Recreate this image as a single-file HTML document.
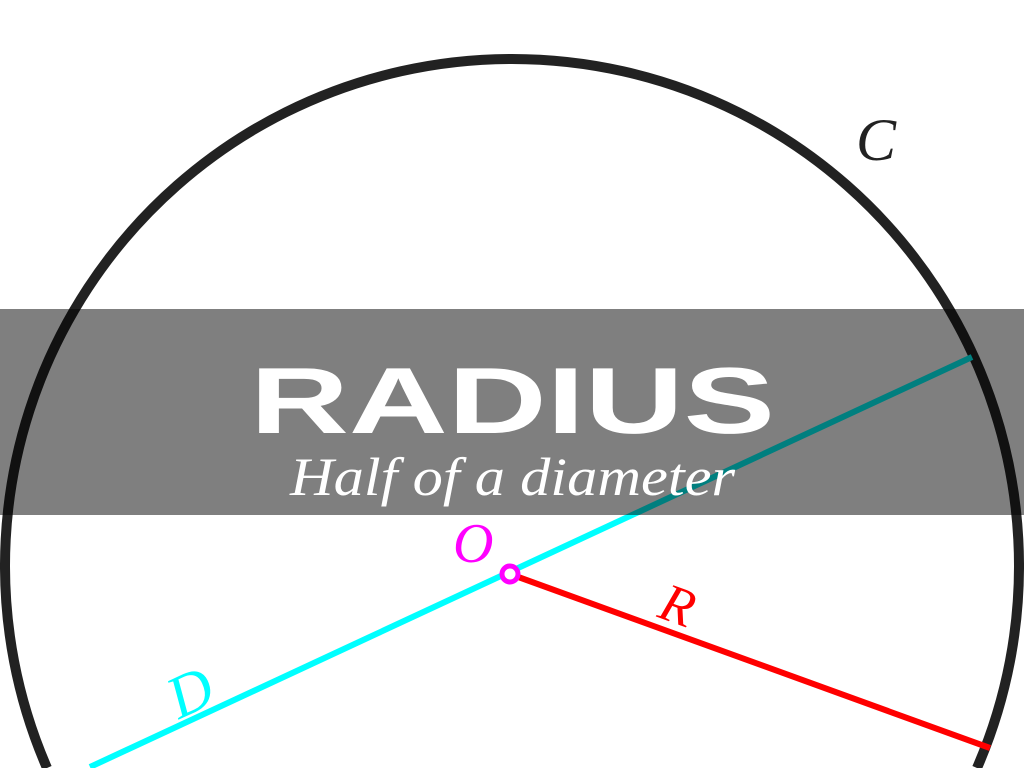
<!DOCTYPE html>
<html><head><meta charset="utf-8"><style>
html,body{margin:0;padding:0;background:#fff;width:1024px;height:768px;overflow:hidden}
svg{display:block;overflow:hidden}
</style></head><body>
<svg width="1024" height="768" viewBox="0 0 1024 768" xmlns="http://www.w3.org/2000/svg">
<rect width="1024" height="768" fill="#fff"/>
<path d="M47,768 A507,507 0 1 1 977,768" fill="none" stroke="#222" stroke-width="10"/>
<line x1="90" y1="767" x2="972" y2="357" stroke="#00ffff" stroke-width="6"/>
<line x1="510" y1="574" x2="990" y2="748" stroke="#ff0000" stroke-width="6"/>
<circle cx="510" cy="574" r="8" fill="#fff" stroke="#ff00ff" stroke-width="5"/>
<text x="856" y="160" font-family="Liberation Serif, serif" font-style="italic" font-size="60" fill="#222">C</text>
<text x="453" y="562" font-family="Liberation Serif, serif" font-style="italic" font-size="56" fill="#ff00ff">O</text>
<text x="660" y="626" font-family="Liberation Serif, serif" font-style="italic" font-size="54" fill="#ff0000" transform="rotate(20 685 610)">R</text>
<text x="168" y="710" font-family="Liberation Serif, serif" font-style="italic" font-size="60" fill="#00ffff" transform="rotate(-25 195 690)">D</text>
<rect x="0" y="309" width="1024" height="206" fill="rgba(0,0,0,0.5)"/>
<text x="250" y="433" font-family="Liberation Sans, sans-serif" font-weight="bold" font-size="94" fill="#fff" textLength="525" lengthAdjust="spacingAndGlyphs">RADIUS</text>
<text x="290" y="495" font-family="Liberation Serif, serif" font-style="italic" font-size="54" fill="#fff" textLength="445" lengthAdjust="spacingAndGlyphs">Half of a diameter</text>
</svg>
</body></html>
